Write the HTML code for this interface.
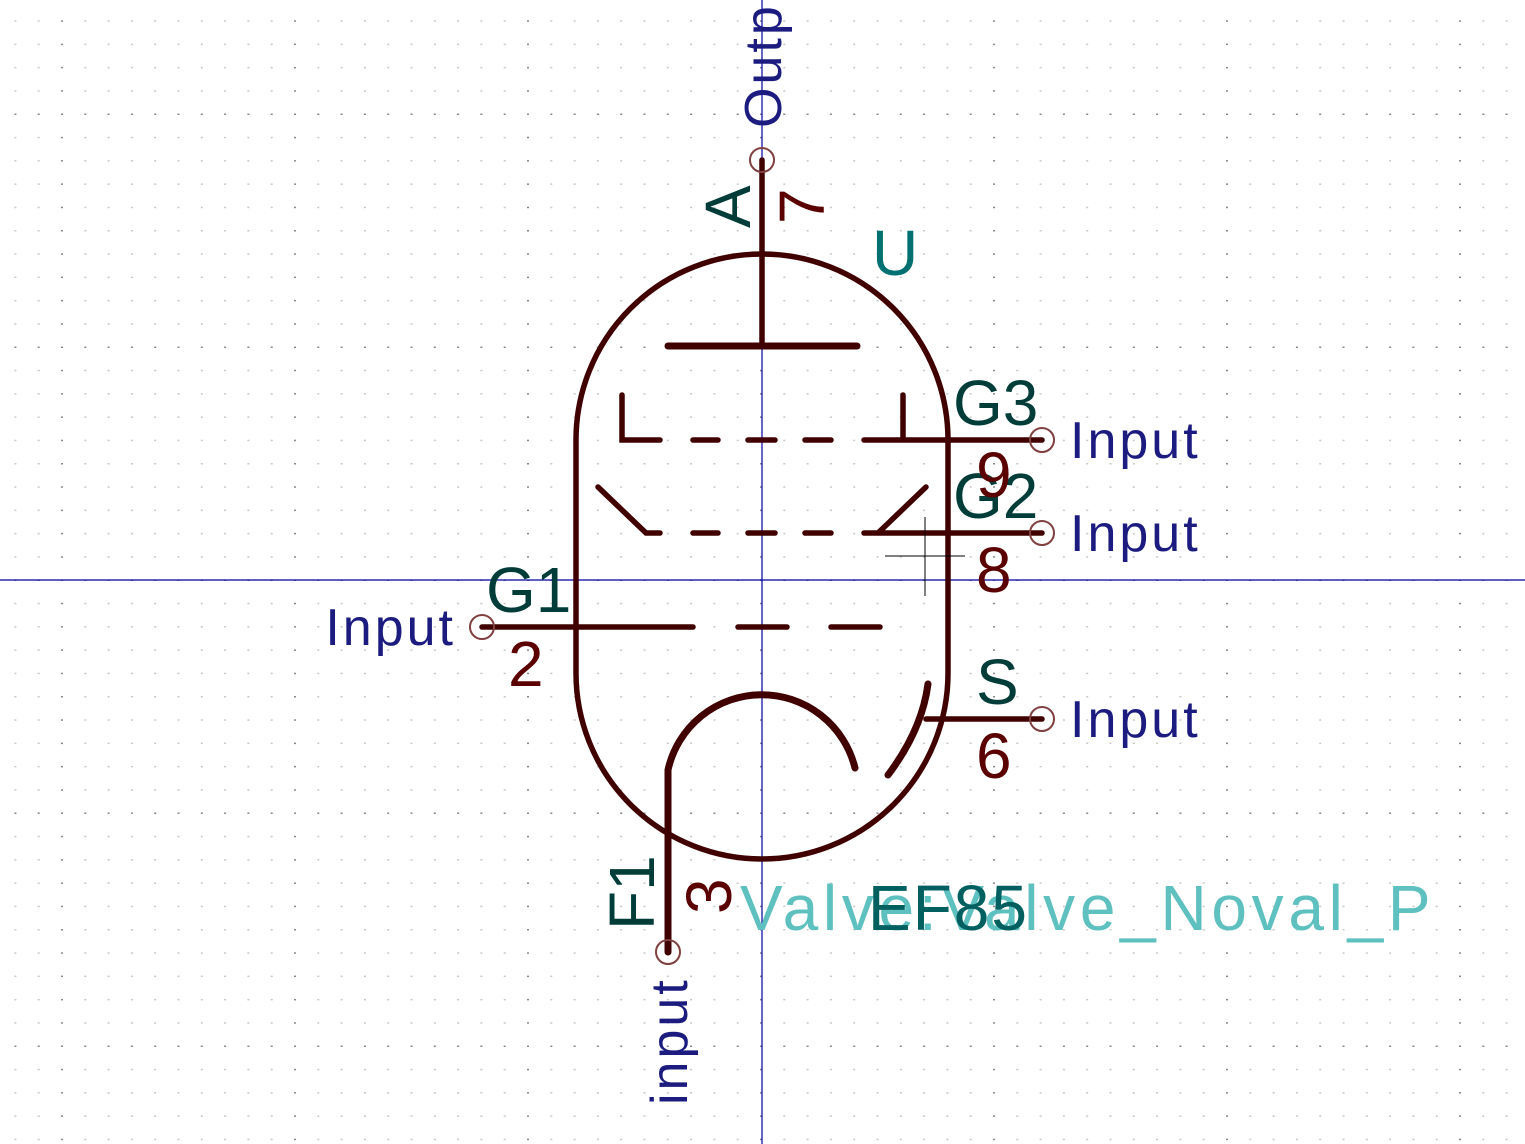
<!DOCTYPE html>
<html><head><meta charset="utf-8"><style>
html,body{margin:0;padding:0;background:#fff;}
svg{display:block;}
text{font-family:"Liberation Sans","DejaVu Sans",sans-serif;}
</style></head><body>
<svg id="sch" width="1525" height="1144" viewBox="0 0 1525 1144" xmlns="http://www.w3.org/2000/svg">
<g id="grid"></g>
<line x1="762" y1="0" x2="762" y2="1144" stroke="#0000a0" stroke-width="1.2"/>
<line x1="0" y1="580" x2="1525" y2="580" stroke="#0000a0" stroke-width="1.2"/>
<g stroke="#400000" stroke-width="5.5" fill="none" stroke-linecap="round">
  <path d="M576 673 L576 440 A186 186 0 0 1 948 440 L948 673 A186 186 0 0 1 576 673 Z"/>
  <line x1="762" y1="160" x2="762" y2="346"/>
  <line x1="668" y1="346" x2="857" y2="346" stroke-width="7"/>
  <path d="M622 395 L622 440 L660 440 M693 440 L718 440 M748 440 L775 440 M805 440 L831 440 M864 440 L1042 440 M903 395 L903 440"/>
  <path d="M598 487 L646 533 L660 533 M693 533 L718 533 M748 533 L775 533 M805 533 L831 533 M864 533 L1042 533 M926 487 L878 533"/>
  <path d="M482 627 L693 627 M738 627 L787 627 M831 627 L880 627"/>
  <path d="M668 952 L668 770 A96 96 0 0 1 855 768" stroke-width="7"/>
  <path d="M928 684 Q922 730 888 775" stroke-width="7"/>
  <line x1="926" y1="719" x2="1042" y2="719"/>
</g>
<g fill="none" stroke="#804040" stroke-width="2">
  <circle cx="762" cy="160" r="12"/>
  <circle cx="1042" cy="440" r="12"/>
  <circle cx="1042" cy="533" r="12"/>
  <circle cx="482" cy="627" r="12"/>
  <circle cx="1042" cy="719" r="12"/>
  <circle cx="668" cy="952" r="12"/>
</g>
<path d="M925 517 L925 596 M885 556 L965 556" stroke="#000" stroke-width="1"/>
<g font-size="52" fill="#1c1c80" letter-spacing="3">
  <text x="1070" y="458">Input</text>
  <text x="1070" y="551">Input</text>
  <text x="1070" y="737">Input</text>
  <text x="456" y="645" text-anchor="end">Input</text>
  <text transform="translate(781,128) rotate(-90)">Output</text>
  <text transform="translate(687,1105) rotate(-90)">input</text>
</g>
<g font-size="64" fill="#003c38">
  <text x="953" y="425">G3</text>
  <text x="953" y="518">G2</text>
  <text x="486" y="612">G1</text>
  <text x="976" y="704">S</text>
  <text transform="translate(750,228) rotate(-90)">A</text>
  <text transform="translate(654,930) rotate(-90)">F1</text>
</g>
<g font-size="64" fill="#5a0000">
  <text x="976" y="497">9</text>
  <text x="976" y="592">8</text>
  <text x="508" y="686">2</text>
  <text x="976" y="778">6</text>
  <text transform="translate(824,224) rotate(-90)">7</text>
  <text transform="translate(731,914) rotate(-90)">3</text>
</g>
<text x="740" y="930" font-size="64" fill="#5fc0c0" letter-spacing="4.7">Valve:Valve_Noval_P</text>
<text x="868" y="930" font-size="64" fill="#006060" letter-spacing="2">EF85</text>
<text x="872" y="275" font-size="64" fill="#007070">U</text>
</svg>
<script>
const gridOriginX = 62, gridOriginY = 114, gridStep = 23.3;
const g = document.getElementById('grid');
let s = '';
for (let i = -3; i * gridStep + gridOriginX < 1525; i++) {
  const x = gridOriginX + i * gridStep;
  if (x < 0) continue;
  for (let j = -5; j * gridStep + gridOriginY < 1144; j++) {
    const y = gridOriginY + j * gridStep;
    if (y < 0) continue;
    const major = (((i % 10) + 10) % 10 === 0) || (((j % 10) + 10) % 10 === 0);
    s += '<rect x="' + (x - 1).toFixed(1) + '" y="' + (y - 0.5).toFixed(1) + '" width="2" height="1.5" fill="' + (major ? '#888' : '#c8c8c8') + '"/>';
  }
}
g.innerHTML = s;
</script>
</body></html>
